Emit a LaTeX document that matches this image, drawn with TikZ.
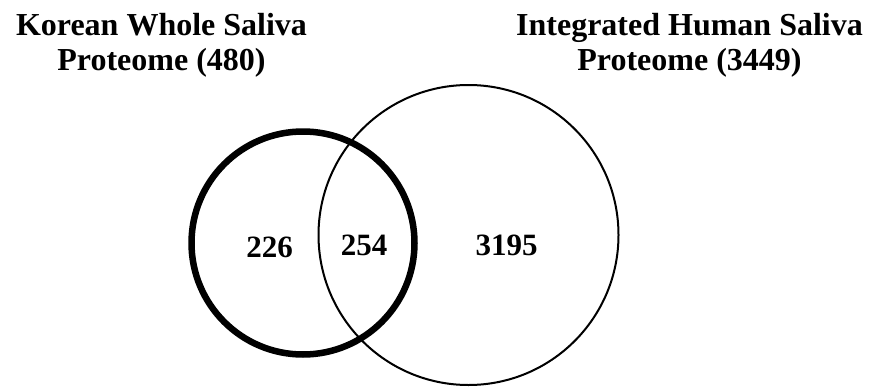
\documentclass[tikz,border=0pt]{standalone}
\usepackage{fontspec}
\setmainfont{Liberation Serif}
\begin{document}
\begin{tikzpicture}[x=1pt,y=-1pt]
  \useasboundingbox (0,0) rectangle (870,388);

  \begin{scope}[every node/.style={circle, draw, inner sep=0pt}]
    \node[minimum size=300pt, line width=2pt] (ihsp) at (468.5,235) {};
    \node[minimum size=223pt, line width=6.5pt] (kwsp) at (303,243) {};
  \end{scope}

  \begin{scope}[every node/.style={font=\bfseries\fontsize{32}{35}\selectfont, align=center}]
    \node (kwsptitle) at (161.5,45) {Korean Whole Saliva\\Proteome (480)};
    \node (ihsptitle) at (689.5,45) {Integrated Human Saliva\\Proteome (3449)};
  \end{scope}

  \begin{scope}[every node/.style={font=\bfseries\fontsize{31}{34}\selectfont}]
    \node (only) at (269.5,247) {226};
    \node (both) at (364,245) {254};
    \node (rest) at (506.5,245) {3195};
  \end{scope}
\end{tikzpicture}
\end{document}
